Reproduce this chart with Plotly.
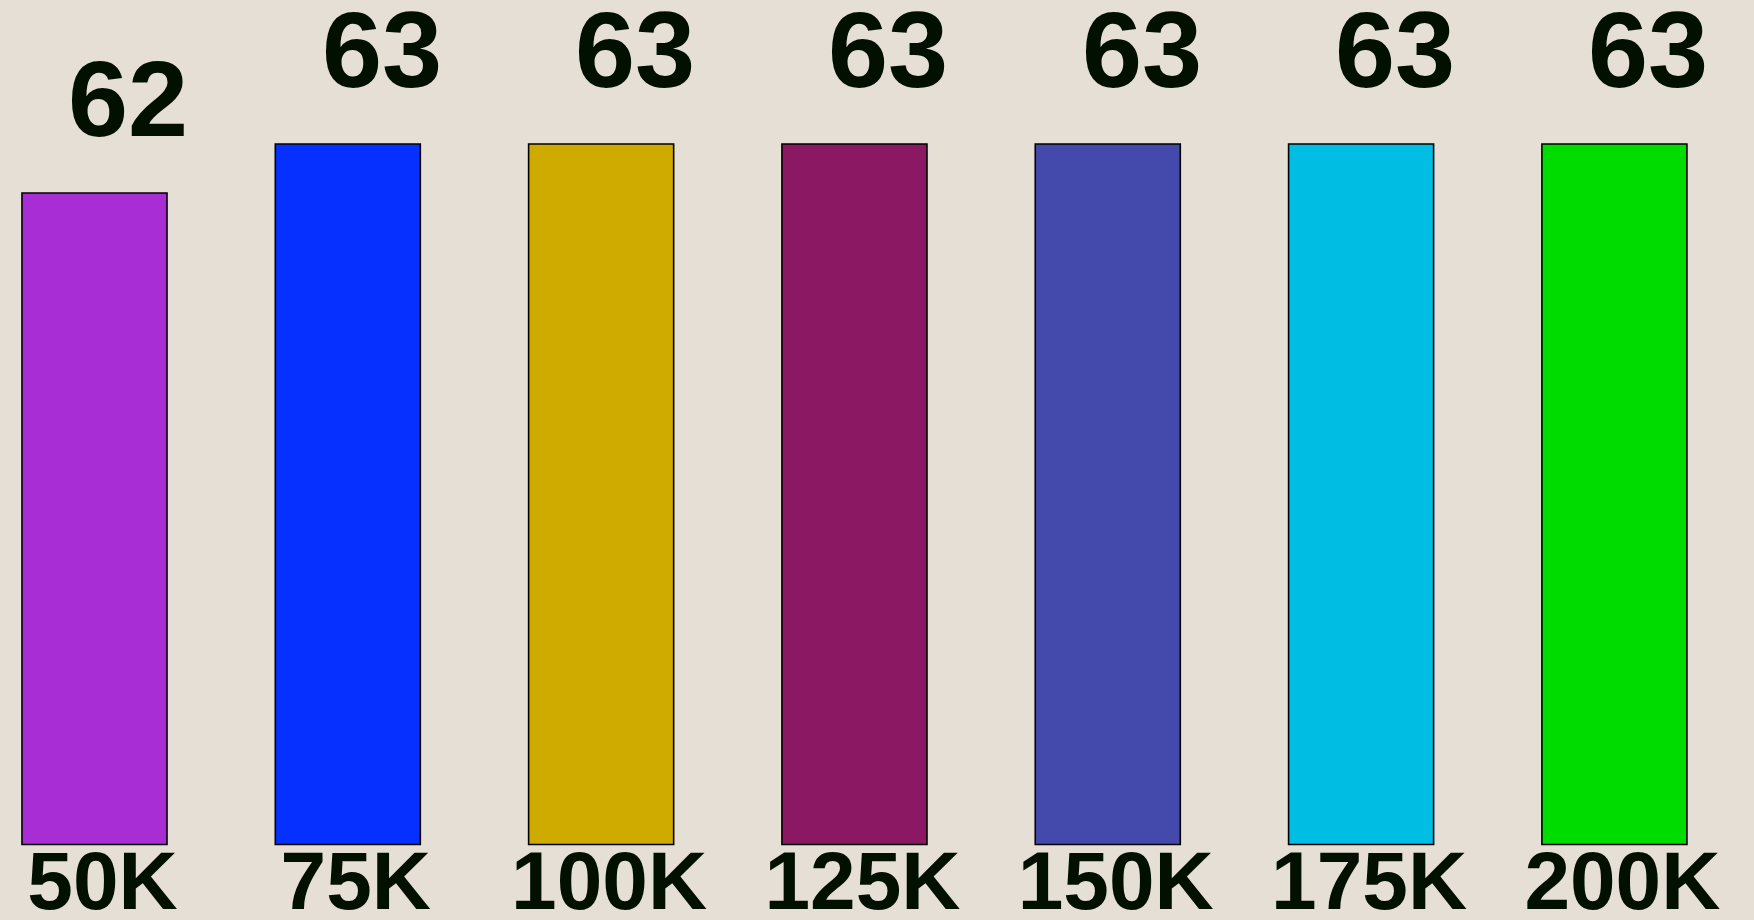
import plotly.graph_objects as go

categories = ["50K", "75K", "100K", "125K", "150K", "175K", "200K"]
values = [62, 63, 63, 63, 63, 63, 63]
bar_colors = ["#a82dd4", "#0530ff", "#cfab00", "#8a1862", "#434aab", "#00bde3", "#00dc00"]

Y_FLOOR = 48.70
TEXT_COLOR = "#021002"
FONT = "Liberation Sans, Arial, sans-serif"

fig = go.Figure()
fig.add_trace(go.Bar(
    x=categories,
    y=[v - Y_FLOOR for v in values],
    base=Y_FLOOR,
    marker=dict(color=bar_colors, line=dict(color="#000000", width=1.6)),
    hovertemplate="%{x}: %{customdata}<extra></extra>",
    customdata=values,
))

for c, v in zip(categories, values):
    fig.add_annotation(
        x=c, y=v, text=f"<b>{v}</b>", showarrow=False,
        xanchor="center", yanchor="bottom", xshift=34, yshift=32,
        font=dict(family=FONT, size=108, color=TEXT_COLOR),
    )

fig.update_layout(
    width=1754, height=920,
    margin=dict(l=0, r=0, t=0, b=74),
    paper_bgcolor="#e5dfd6",
    plot_bgcolor="#e5dfd6",
    bargap=0.4275,
    showlegend=False,
    xaxis=dict(
        range=[-0.373, 6.551], showgrid=False, zeroline=False, showline=False,
        automargin=False,
        ticks="", tickfont=dict(family=FONT, size=82, color=TEXT_COLOR),
        tickprefix="<b>", ticksuffix="</b>", ticklabelshift=8,
        ticklabelstandoff=-20,
    ),
    yaxis=dict(range=[48.67, 65.94], visible=False, showgrid=False,
               zeroline=False, automargin=False),
)

fig.write_html("out.html")
